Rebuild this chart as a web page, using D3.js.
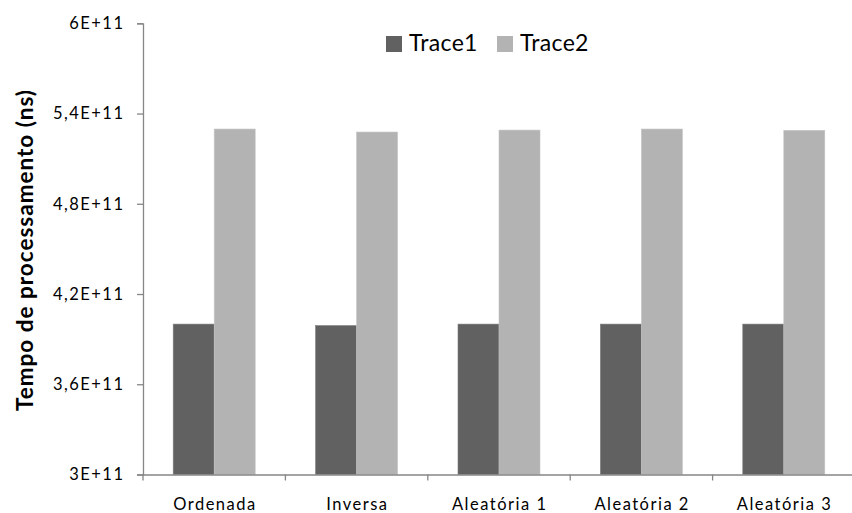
<!DOCTYPE html>
<html>
<head>
<meta charset="utf-8">
<script src="https://cdn.jsdelivr.net/npm/d3@7"></script>
<style>
  body { margin: 0; background: #fff; }
  svg { display: block; font-family: Lato, "Open Sans", sans-serif; }
</style>
</head>
<body>
<svg id="chart" width="852" height="513"></svg>
<script>
// Processing time per input ordering, for two traces
const categories = ["Ordenada", "Inversa", "Aleatória 1", "Aleatória 2", "Aleatória 3"];
const seriesNames = ["Trace1", "Trace2"];
const trace1 = [4.00e11, 3.99e11, 4.00e11, 4.00e11, 4.00e11];
const trace2 = [5.297e11, 5.277e11, 5.29e11, 5.297e11, 5.288e11];
const yTicks = [3e11, 3.6e11, 4.2e11, 4.8e11, 5.4e11, 6e11];
const yTickLabels = ["3E+11", "3,6E+11", "4,2E+11", "4,8E+11", "5,4E+11", "6E+11"];
const colors = ["#616161", "#b3b3b3"];

const svg = d3.select("#chart");
const plotLeft = 143, plotRight = 855, plotTop = 23.3, plotBottom = 474.5;
const font = "Lato, 'Open Sans', sans-serif";

const x = d3.scaleBand().domain(categories).range([plotLeft, plotRight]).paddingInner(0).paddingOuter(0);
const y = d3.scaleLinear().domain([3e11, 6e11]).range([plotBottom, plotTop]);
const groupWidth = 82;
const xs = d3.scaleBand().domain(seriesNames).range([0, groupWidth]).padding(0);

const rows = categories.map((c, i) => ({ cat: c, values: [trace1[i], trace2[i]] }));

// Bars
const g = svg.append("g");
rows.forEach(r => {
  const x0 = x(r.cat) + (x.bandwidth() - groupWidth) / 2;
  r.values.forEach((v, k) => {
    g.append("rect")
      .attr("x", x0 + xs(seriesNames[k]))
      .attr("y", y(v))
      .attr("width", xs.bandwidth())
      .attr("height", y(3e11) - y(v))
      .attr("fill", colors[k])
      .attr("stroke", k === 0 ? "#7a7a7a" : "#c4c4c4")
      .attr("stroke-width", 0.6);
  });
});

// Y axis
const yAxis = d3.axisLeft(y).tickValues(yTicks)
  .tickFormat((d, i) => yTickLabels[i]).tickSize(6).tickPadding(12.5);
const ya = svg.append("g").attr("transform", `translate(${plotLeft},0)`).call(yAxis);
ya.select(".domain").attr("stroke", "#868686").attr("stroke-width", 1.3);
ya.selectAll(".tick line").attr("stroke", "#868686").attr("stroke-width", 1.3);
ya.selectAll(".tick text").attr("fill", "#000").attr("font-size", 16.5)
  .attr("letter-spacing", 1.5).attr("font-family", font);

// X axis
const xAxis = d3.axisBottom(x).tickSize(0).tickPadding(23.5);
const xa = svg.append("g").attr("transform", `translate(0,${plotBottom})`).call(xAxis);
xa.select(".domain").attr("stroke", "#868686").attr("stroke-width", 1.3);
xa.selectAll(".tick text").attr("fill", "#000").attr("font-size", 16.5)
  .attr("letter-spacing", 1.5).attr("dx", 0.75).attr("font-family", font);
// category boundary ticks
const bounds = categories.map(c => x(c)).concat([plotRight]);
svg.append("g").selectAll("line").data(bounds).join("line")
  .attr("x1", d => d).attr("x2", d => d)
  .attr("y1", plotBottom).attr("y2", plotBottom + 6)
  .attr("stroke", "#868686").attr("stroke-width", 1.3);

// Y title
svg.append("text")
  .attr("transform", "translate(33,250) rotate(-90)")
  .attr("text-anchor", "middle")
  .attr("font-size", 22.5).attr("font-weight", "bold")
  .attr("letter-spacing", 1)
  .text("Tempo de processamento (ns)");

// Legend
const legend = svg.append("g");
const legendX = [386, 497];
seriesNames.forEach((s, k) => {
  legend.append("rect").attr("x", legendX[k]).attr("y", 36)
    .attr("width", 16).attr("height", 16).attr("fill", colors[k]);
  legend.append("text").attr("x", legendX[k] + 23).attr("y", 51)
    .attr("font-size", 23).attr("letter-spacing", 0.3).text(s);
});
</script>
</body>
</html>
